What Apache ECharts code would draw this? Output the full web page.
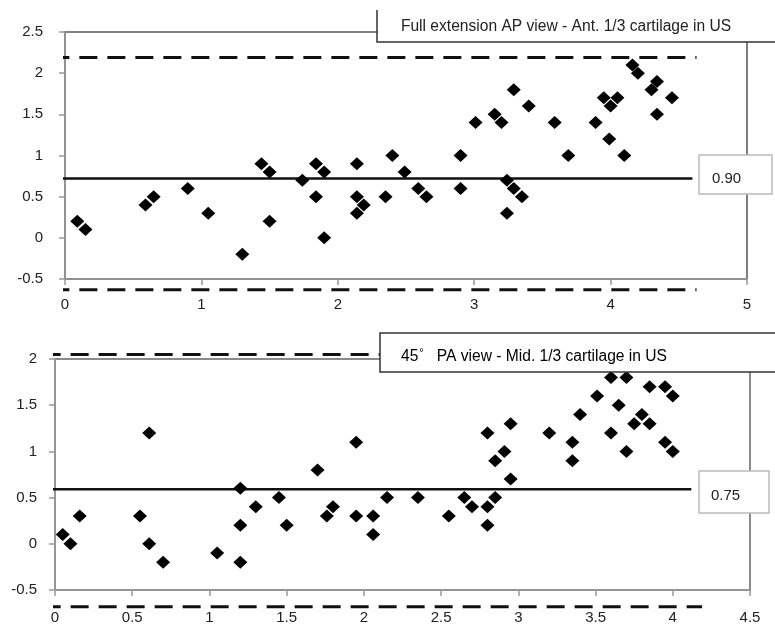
<!DOCTYPE html>
<html>
<head>
<meta charset="utf-8">
<script src="https://cdn.jsdelivr.net/npm/echarts@6/dist/echarts.min.js"></script>
<style>
html,body{margin:0;padding:0;background:#fff;}
#chart{width:775px;height:625px;}
</style>
</head>
<body>
<div id="chart"></div>
<script>
// ---- Top panel: Full extension AP view ----
var apTitle = 'Full extension AP view - Ant. 1/3 cartilage in US';
var apX = [0.09,0.15,0.59,0.65,0.90,1.05,1.30,1.44,1.50,1.50,1.74,1.84,1.84,1.90,1.90,2.14,2.14,2.14,2.19,2.35,2.40,2.49,2.59,2.65,2.90,2.90,3.01,3.15,3.20,3.29,3.24,3.29,3.35,3.24,3.40,3.59,3.69,3.89,3.95,4.00,4.05,3.99,4.10,4.16,4.20,4.34,4.30,4.34,4.45];
var apY = [0.2,0.1,0.4,0.5,0.6,0.3,-0.2,0.9,0.8,0.2,0.7,0.9,0.5,0.8,0.0,0.9,0.5,0.3,0.4,0.5,1.0,0.8,0.6,0.5,1.0,0.6,1.4,1.5,1.4,1.8,0.7,0.6,0.5,0.3,1.6,1.4,1.0,1.4,1.7,1.6,1.7,1.2,1.0,2.1,2.0,1.9,1.8,1.5,1.7];
var apMean = 0.72, apUpper = 2.19, apLower = -0.63;
var apLineX = [-0.1, 4.6], apDashX = [-0.1, 4.63];
var apLabel = '0.90';
var apXTicks = [0, 5, 1], apYTicks = [-0.5, 2.5, 0.5];

// ---- Bottom panel: 45° PA view ----
var paTitleLead = '45', paTitleRest = 'PA view - Mid. 1/3 cartilage in US';
var paX = [0.05,0.10,0.16,0.55,0.61,0.61,0.70,1.05,1.20,1.20,1.20,1.30,1.45,1.50,1.70,1.76,1.80,1.95,1.95,2.06,2.06,2.15,2.35,2.55,2.65,2.70,2.80,2.80,2.80,2.85,2.85,2.91,2.95,2.95,3.20,3.35,3.35,3.40,3.51,3.60,3.70,3.65,3.60,3.70,3.75,3.80,3.85,3.85,3.95,4.00,3.95,4.00];
var paY = [0.1,0.0,0.3,0.3,1.2,0.0,-0.2,-0.1,0.6,0.2,-0.2,0.4,0.5,0.2,0.8,0.3,0.4,1.1,0.3,0.3,0.1,0.5,0.5,0.3,0.5,0.4,1.2,0.4,0.2,0.5,0.9,1.0,1.3,0.7,1.2,1.1,0.9,1.4,1.6,1.8,1.8,1.5,1.2,1.0,1.3,1.4,1.3,1.7,1.7,1.6,1.1,1.0];
var paMean = 0.59, paUpper = 2.05, paLower = -0.68;
var paLineX = [-0.08, 4.12], paDashX = [-0.08, 4.19];
var paLabel = '0.75';
var paXTicks = [0, 4.5, 0.5], paYTicks = [-0.5, 2, 0.5];

function pairs(xs, ys){ return xs.map(function(x,i){ return [x, ys[i]]; }); }
function hline(xs, y){ return [[xs[0], y], [xs[1], y]]; }

var FONT = 'Liberation Sans, Arial, sans-serif';
var axisGray = '#999';

function xAxisCfg(idx, t, margin){
  return {gridIndex: idx, type:'value', min:t[0], max:t[1], interval:t[2],
    axisLine:{show:true, onZero:false, lineStyle:{color:axisGray, width:1.5}},
    axisTick:{show:true, length:6, lineStyle:{color:axisGray, width:1.5}},
    splitLine:{show:false},
    axisLabel:{margin:margin, fontSize:15, color:'#222', fontFamily:FONT, showMinLabel:true, showMaxLabel:true}};
}
function yAxisCfg(idx, t, margin){
  return {gridIndex: idx, type:'value', min:t[0], max:t[1], interval:t[2],
    axisLine:{show:true, onZero:false, lineStyle:{color:axisGray, width:1.5}},
    axisTick:{show:true, length:6, lineStyle:{color:axisGray, width:1.5}},
    splitLine:{show:false},
    axisLabel:{margin:margin, fontSize:15, color:'#222', fontFamily:FONT, showMinLabel:true, showMaxLabel:true}};
}
function lineSeries(idx, data, dashed){
  return {type:'line', xAxisIndex:idx, yAxisIndex:idx, data:data, symbol:'none', clip:false, silent:true, z:3,
    lineStyle:{color:'#111', width: dashed ? 3 : 2.5, type: dashed ? [18,10] : 'solid'}};
}
function scatterSeries(idx, data){
  return {type:'scatter', xAxisIndex:idx, yAxisIndex:idx, data:data, symbol:'diamond', symbolSize:[14,13], z:5,
    itemStyle:{color:'#000', opacity:1}};
}

var chart = echarts.init(document.getElementById('chart'), null, {renderer:'canvas'});
chart.setOption({
  animation:false,
  backgroundColor:'#fff',
  grid:[
    {left:65, top:32, width:682, height:247, show:true, borderColor:'#555', borderWidth:1.5},
    {left:55, top:359, width:695, height:232, show:true, borderColor:'#666', borderWidth:1.5}
  ],
  xAxis:[xAxisCfg(0, apXTicks, 18), xAxisCfg(1, paXTicks, 20)],
  yAxis:[yAxisCfg(0, apYTicks, 22), yAxisCfg(1, paYTicks, 18)],
  series:[
    lineSeries(0, hline(apDashX, apUpper), true),
    lineSeries(0, hline(apDashX, apLower), true),
    lineSeries(0, hline(apLineX, apMean), false),
    scatterSeries(0, pairs(apX, apY)),
    lineSeries(1, hline(paDashX, paUpper), true),
    lineSeries(1, hline(paDashX, paLower), true),
    lineSeries(1, hline(paLineX, paMean), false),
    scatterSeries(1, pairs(paX, paY))
  ],
  graphic:[
    // top title box
    {type:'rect', z:100, shape:{x:377, y:10, width:400, height:32}, style:{fill:'#fff', stroke:null}},
    {type:'polyline', z:101, shape:{points:[[377,10],[377,42],[776,42]]}, style:{stroke:'#333', lineWidth:1.5, fill:null}},
    {type:'text', z:102, x:566, y:27, style:{text:apTitle, font:'15.6px '+FONT, fill:'#222', textAlign:'center', textVerticalAlign:'middle'}},
    // top value label
    {type:'rect', z:100, shape:{x:699, y:155, width:73, height:39}, style:{fill:'#fff', stroke:'#bbb', lineWidth:1.5}},
    {type:'text', z:102, x:712, y:179, style:{text:apLabel, font:'15px '+FONT, fill:'#222', textVerticalAlign:'middle'}},
    // bottom title box
    {type:'rect', z:100, shape:{x:380, y:333, width:400, height:39}, style:{fill:'#fff', stroke:'#333', lineWidth:1.5}},
    {type:'text', z:102, x:401, y:357, style:{
      text:'{a|'+paTitleLead+'}{s|°}{a|   '+paTitleRest+'}',
      rich:{a:{fontSize:15.6, fontFamily:FONT, color:'#222'}, s:{fontSize:11, fontFamily:FONT, color:'#222', verticalAlign:'top', padding:[0,0,8,1]}},
      textVerticalAlign:'middle'}},
    // bottom value label
    {type:'rect', z:100, shape:{x:699, y:471, width:70, height:42}, style:{fill:'#fff', stroke:'#bbb', lineWidth:1.5}},
    {type:'text', z:102, x:711, y:496, style:{text:paLabel, font:'15px '+FONT, fill:'#222', textVerticalAlign:'middle'}}
  ]
});
</script>
</body>
</html>
